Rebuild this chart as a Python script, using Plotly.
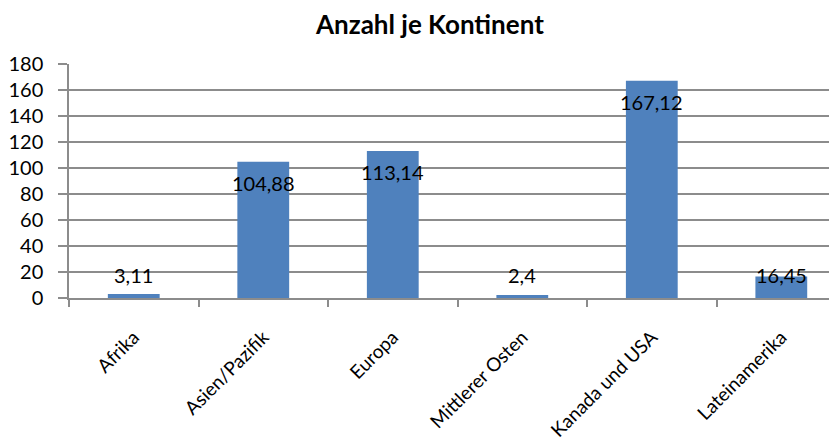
import plotly.graph_objects as go

categories = ["Afrika", "Asien/Pazifik", "Europa", "Mittlerer Osten", "Kanada und USA", "Lateinamerika"]
values = [3.11, 104.88, 113.14, 2.4, 167.12, 16.45]
value_labels = ["3,11", "104,88", "113,14", "2,4", "167,12", "16,45"]
y_ticks = [0, 20, 40, 60, 80, 100, 120, 140, 160, 180]

FONT = "Lato"
GRID = "#8c8c8c"
BAR = "#4f81bd"

# page body has an 8px margin, so the figure is drawn from (8, 8)
W, H = 829, 440
ML, MT, MB = 61, 56, 150

fig = go.Figure()
fig.add_trace(go.Bar(
    x=categories, y=values, width=0.4,
    marker=dict(color=BAR, line=dict(width=0)),
    hoverinfo="x+y",
))

annotations = []
for c, v, t in zip(categories, values, value_labels):
    if v < 20:
        annotations.append(dict(x=c, y=0, xref="x", yref="y", text=t, showarrow=False,
                                yanchor="bottom", yshift=9,
                                font=dict(family=FONT, size=20, color="#000")))
    else:
        annotations.append(dict(x=c, y=v, xref="x", yref="y", text=t, showarrow=False,
                                yanchor="top", yshift=-7,
                                font=dict(family=FONT, size=20, color="#000")))

plot_h = H - MT - MB
annotations.append(dict(x=(421 - ML) / (W - ML), y=1 + (MT - 16) / plot_h, xref="paper", yref="paper",
                        text="<b>Anzahl je Kontinent</b>",
                        showarrow=False, xanchor="center", yanchor="middle",
                        font=dict(family=FONT, size=26, color="#000")))

fig.update_layout(
    width=W, height=H,
    margin=dict(l=ML, r=0, t=MT, b=MB),
    paper_bgcolor="white", plot_bgcolor="white",
    showlegend=False,
    annotations=annotations,
)

fig.update_xaxes(
    type="category", range=[-0.5, 5.43],
    tickangle=-45, tickson="boundaries",
    ticks="outside", ticklen=7, tickcolor=GRID, tickwidth=1.5,
    showline=True, linecolor=GRID, linewidth=1.5,
    showgrid=False,
    tickfont=dict(family=FONT, size=19, color="#000"),
    ticklabelstandoff=19,
    automargin=False,
)
fig.update_yaxes(
    range=[0, 180], tickvals=y_ticks, ticktext=[str(v) for v in y_ticks],
    ticks="outside", ticklen=9, tickcolor=GRID, tickwidth=1.5,
    showline=True, linecolor=GRID, linewidth=1.5,
    showgrid=True, gridcolor=GRID, gridwidth=1.5,
    zeroline=False,
    tickfont=dict(family=FONT, size=20, color="#000"),
    ticklabelstandoff=11,
    automargin=False,
)

fig.write_html("out.html")
